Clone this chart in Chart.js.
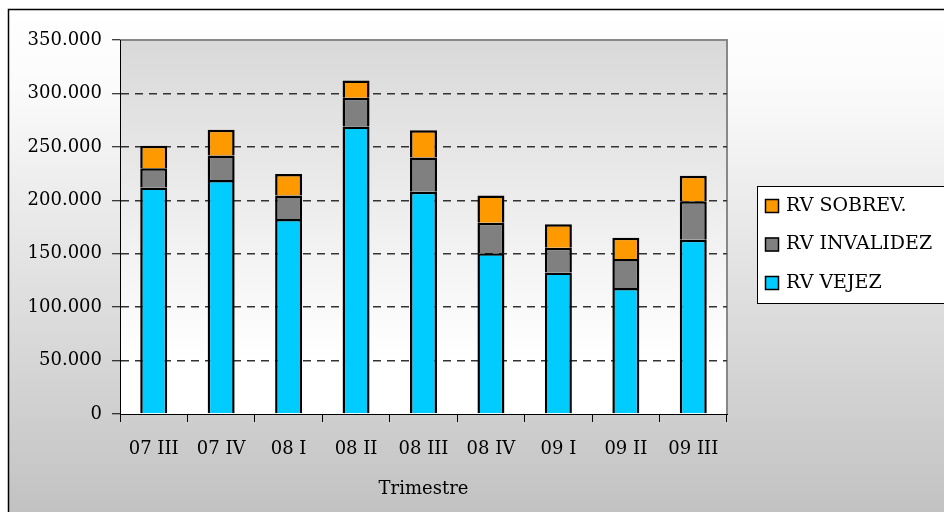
<!DOCTYPE html>
<html>
<head>
<meta charset="utf-8">
<script src="https://cdn.jsdelivr.net/npm/chart.js@4"></script>
<style>
  body { margin: 0; background: #fff; }
  canvas { display: block; }
</style>
</head>
<body>
<canvas id="chart" width="944" height="512"></canvas>
<script>
// datos por trimestre
var trimestres = ['07 III', '07 IV', '08 I', '08 II', '08 III', '08 IV', '09 I', '09 II', '09 III'];
var rvVejez = [212000, 219000, 182500, 269000, 208000, 150500, 132500, 118000, 163000];
var rvInvalidez = [18000, 23000, 22000, 27000, 32000, 28500, 23000, 27000, 36000];
var rvSobrev = [21000, 24000, 20000, 16000, 25500, 25500, 22000, 20000, 24000];
var yTicks = [0, 50000, 100000, 150000, 200000, 250000, 300000, 350000];

var FONT = 'DejaVu Serif';

function fmtMiles(v) {
    return String(v).replace(/\B(?=(\d{3})+(?!\d))/g, '.');
}

// fondo, bordes del area de grafico y leyenda
var fondoPlugin = {
    id: 'fondo',
    beforeDraw: function (chart) {
        var ctx = chart.ctx;
        var a = chart.chartArea;
        ctx.save();
        ctx.fillStyle = '#fff';
        ctx.fillRect(0, 0, chart.width, chart.height);
        var g = ctx.createLinearGradient(0, 9, 0, chart.height);
        g.addColorStop(0, '#ffffff');
        g.addColorStop(0.15, '#fbfbfb');
        g.addColorStop(1, '#c2c2c2');
        ctx.fillStyle = g;
        ctx.fillRect(8, 9, chart.width - 8, chart.height - 9);
        ctx.strokeStyle = '#000';
        ctx.lineWidth = 1.5;
        ctx.beginPath();
        ctx.moveTo(8.5, chart.height);
        ctx.lineTo(8.5, 9.5);
        ctx.lineTo(chart.width, 9.5);
        ctx.stroke();
        var g2 = ctx.createLinearGradient(0, a.top, 0, a.bottom);
        g2.addColorStop(0, '#d9d9d9');
        g2.addColorStop(0.85, '#ffffff');
        g2.addColorStop(1, '#ffffff');
        ctx.fillStyle = g2;
        ctx.fillRect(a.left, a.top, a.right - a.left, a.bottom - a.top);
        ctx.strokeStyle = '#888';
        ctx.lineWidth = 2;
        ctx.beginPath();
        ctx.moveTo(a.left, a.top);
        ctx.lineTo(a.right, a.top);
        ctx.lineTo(a.right, a.bottom);
        ctx.stroke();
        ctx.restore();
    },
    afterDraw: function (chart) {
        var ctx = chart.ctx;
        var ds = chart.data.datasets;
        ctx.save();
        ctx.fillStyle = '#fff';
        ctx.fillRect(757, 186, 200, 117);
        ctx.strokeStyle = '#000';
        ctx.lineWidth = 1;
        ctx.strokeRect(757.5, 186.5, 200, 117);
        ctx.font = '19px "' + FONT + '"';
        ctx.textBaseline = 'middle';
        for (var i = 0; i < ds.length; i++) {
            var d = ds[ds.length - 1 - i];
            var y = 206 + i * 38.5;
            ctx.fillStyle = d.backgroundColor;
            ctx.fillRect(765, y - 7, 14, 14);
            ctx.lineWidth = 1.5;
            ctx.strokeRect(765.5, y - 6.5, 13, 13);
            ctx.fillStyle = '#000';
            ctx.fillText(d.label, 786, y);
        }
        ctx.restore();
    }
};

var ctx = document.getElementById('chart').getContext('2d');
var myChart = new Chart(ctx, {
    type: 'bar',
    data: {
        labels: trimestres,
        datasets: [{
            label: 'RV VEJEZ',
            data: rvVejez,
            backgroundColor: '#00ccff',
            borderColor: '#000',
            borderWidth: 2.5
        }, {
            label: 'RV INVALIDEZ',
            data: rvInvalidez,
            backgroundColor: '#808080',
            borderColor: '#000',
            borderWidth: 2.5
        }, {
            label: 'RV SOBREV.',
            data: rvSobrev,
            backgroundColor: '#ff9900',
            borderColor: '#000',
            borderWidth: 2.5
        }]
    },
    options: {
        responsive: false,
        animation: false,
        barPercentage: 0.4,
        categoryPercentage: 1,
        layout: { padding: { left: 0, right: 217, top: 40, bottom: 0 } },
        plugins: {
            legend: { display: false },
            tooltip: { enabled: false }
        },
        scales: {
            x: {
                stacked: true,
                afterFit: function (s) { s.height = 98; },
                grid: {
                    offset: true,
                    drawOnChartArea: false,
                    tickLength: 8,
                    tickColor: '#000'
                },
                border: { color: '#000', width: 1 },
                ticks: {
                    color: '#000',
                    padding: 17,
                    font: { family: FONT, size: 18 }
                },
                title: {
                    display: true,
                    text: 'Trimestre',
                    color: '#000',
                    padding: { top: 0, bottom: 12 },
                    font: { family: FONT, size: 18 }
                }
            },
            y: {
                stacked: true,
                min: 0,
                max: 350000,
                afterFit: function (s) { s.width = 120; },
                afterBuildTicks: function (s) {
                    s.ticks = yTicks.map(function (v) { return { value: v }; });
                },
                grid: {
                    color: function (c) {
                        if (c.tick && (c.tick.value === 0 || c.tick.value === 350000)) return 'rgba(0,0,0,0)';
                        return '#333';
                    },
                    lineWidth: 1.5,
                    tickLength: 8,
                    tickColor: '#000',
                    tickWidth: 1,
                    tickBorderDash: []
                },
                border: { color: '#000', width: 1, dash: [8, 6] },
                ticks: {
                    color: '#000',
                    padding: 10,
                    font: { family: FONT, size: 18 },
                    callback: function (v) { return fmtMiles(v); }
                }
            }
        }
    },
    plugins: [fondoPlugin]
});
</script>
</body>
</html>
